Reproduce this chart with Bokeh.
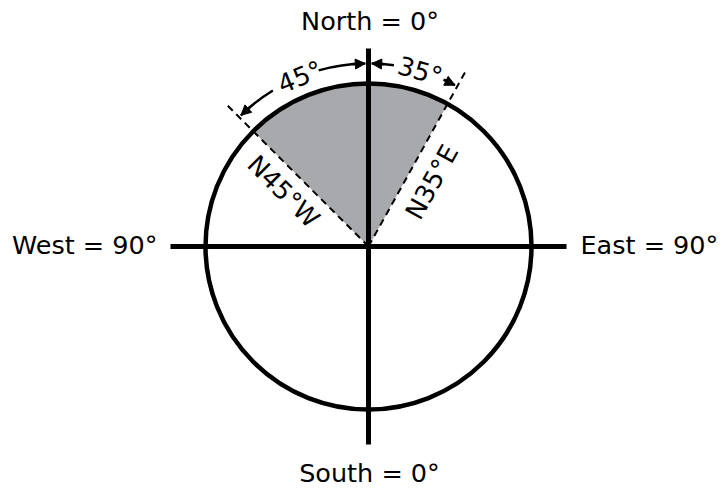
import numpy as np
from bokeh.plotting import figure
from bokeh.models import Arrow, NormalHead, ColumnDataSource
from bokeh.core.properties import value
from bokeh.embed import file_html
from bokeh.resources import INLINE

# ---- data ----
direction_labels = ["North = 0°", "East = 90°", "South = 0°", "West = 90°"]
ray_labels = ["N45°W", "N35°E"]
ray_bearings = [-45, 29]          # bearing as drawn (degrees clockwise from north)
angle_labels = ["45°", "35°"]
angle_label_bearings = [-22, 16.4]

# ---- layout ----
R = 163.0            # circle radius (px)
AX = 198.0           # half-length of the axes
RAY = 200.0          # length of dashed rays
ARC_R = 183.0        # radius of angle arcs
FONT = value("DejaVu Sans")
FS = "25.5px"

def pt(b, r):
    t = np.radians(b)
    return r * np.sin(t), r * np.cos(t)

p = figure(width=723, height=489, x_range=(-368, 355), y_range=(-243, 246),
           output_backend="svg", toolbar_location=None, min_border=0)
p.axis.visible = False
p.grid.visible = False
p.outline_line_color = None
p.background_fill_color = "white"

# shaded wedge
b0, b1 = ray_bearings
p.wedge(x=[0], y=[0], radius=R, start_angle=np.radians(90 - b1), end_angle=np.radians(90 - b0),
        direction="anticlock", fill_color="#a7a9ac", line_color=None)

# dashed rays
xs = [[0, pt(b, RAY)[0]] for b in ray_bearings]
ys = [[0, pt(b, RAY)[1]] for b in ray_bearings]
p.multi_line(xs=xs, ys=ys, line_color="black", line_width=2, line_dash="7 5")

# circle
p.circle(x=[0], y=[0], radius=R, fill_color=None, line_color="black", line_width=4.5)

# axes lines
p.segment(x0=[-AX, 0], y0=[0, -AX], x1=[AX, 0], y1=[0, AX], line_color="black", line_width=5)

# angle arcs (segments in bearings) with arrow tips
arc_segments = [(-44.2, -31.5), (-15.8, -1.0), (1.0, 8.0), (24.5, 28.2)]
for a, b in arc_segments:
    p.arc(x=0, y=0, radius=ARC_R, start_angle=np.radians(90 - b), end_angle=np.radians(90 - a),
          direction="anticlock", line_color="black", line_width=2.5)
tips = [(-44.2, 1), (-1.0, -1), (1.0, 1), (28.2, -1)]
for tip, back in tips:
    xs0, ys0 = pt(tip + back * 4, ARC_R)
    xe, ye = pt(tip, ARC_R)
    p.add_layout(Arrow(x_start=xs0, y_start=ys0, x_end=xe, y_end=ye, line_width=2.5,
                       end=NormalHead(size=10, fill_color="black", line_color="black", line_width=1)))

# angle labels
lx, ly, la = [], [], []
for b in angle_label_bearings:
    x, y = pt(b, ARC_R)
    lx.append(x); ly.append(y); la.append(-b)
p.text(x=lx, y=ly, text=angle_labels, angle=la, angle_units="deg", text_font=FONT,
       text_font_size=FS, text_align="center", text_baseline="middle", text_color="black")

# ray labels
along = [99, 87]
side = [-21, 24]
rx, ry, ra = [], [], []
for b, d, s in zip(ray_bearings, along, side):
    x, y = pt(b, d)
    nx, ny = pt(b + 90, s)
    rx.append(x + nx); ry.append(y + ny)
    ra.append(90 - b if b > 0 else -(90 + b))
p.text(x=rx, y=ry, text=ray_labels, angle=ra, angle_units="deg", text_font=FONT,
       text_font_size=FS, text_align="center", text_baseline="middle", text_color="black")

# direction labels
dx = [1.5, 212, 1, -211]
dy = [226, 2, -226, 2]
align = ["center", "left", "center", "right"]
src = ColumnDataSource(dict(x=dx, y=dy, t=direction_labels, a=align))
p.text(x="x", y="y", text="t", text_align="a", source=src, text_font=FONT,
       text_font_size=FS, text_baseline="middle", text_color="black")

open("out.html", "w").write(file_html(p, INLINE))
